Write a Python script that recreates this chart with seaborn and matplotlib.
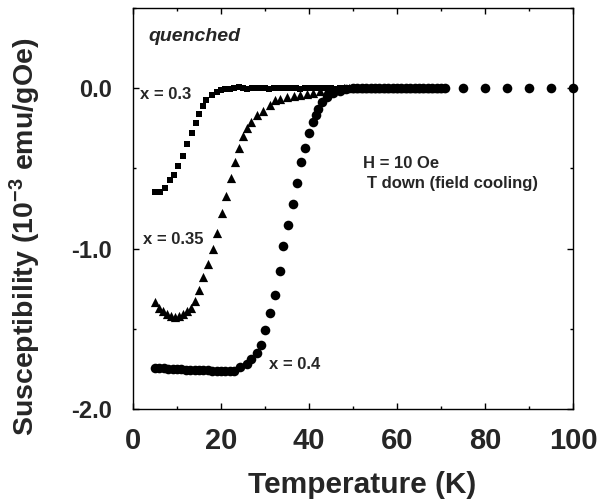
import matplotlib
matplotlib.use("Agg")
import matplotlib.pyplot as plt
import seaborn as sns
import numpy as np
from matplotlib.ticker import AutoMinorLocator, FixedLocator

# ---------------- data ----------------
T_x030 = [5.1, 6.1, 7.3, 8.4, 9.3, 10.3, 11.3, 12.3, 13.3, 14.3, 15.1, 16.0, 16.7,
          17.9, 19.0, 20.0, 21.0, 22.0, 23.0, 24.0, 25.0, 26.0, 27.0, 28.0, 29.0,
          30.0, 31.0, 32.0, 33.0, 34.0, 35.0, 36.0, 37.0, 38.0, 39.0, 40.0, 41.0,
          42.0, 43.0, 44.0, 45.0, 46.0, 47.0, 48.0, 49.0, 50.0, 51.0, 52.0, 53.0,
          54.0, 55.0, 56.0, 57.0, 58.0, 59.0, 60.0, 61.0, 62.0, 63.0, 64.0, 65.0,
          66.0, 67.0, 68.0, 69.0, 70.0]
chi_x030 = [-0.65, -0.65, -0.625, -0.575, -0.54, -0.486, -0.42, -0.35, -0.28, -0.22,
            -0.16, -0.11, -0.075, -0.044, -0.022, -0.012, -0.006, -0.002, 0.0, 0.005,
            0.003, -0.002, 0.0, 0.002, 0.004, 0.0, -0.003, 0.0, 0.002, 0.0,
            0.0, 0.003, 0.0, -0.002, 0.0, 0.002, 0.0, 0.0, 0.003, 0.0,
            0.0, -0.002, 0.0, 0.002, 0.0, 0.0, 0.003, 0.0, 0.0, 0.002,
            0.0, 0.0, 0.0, 0.002, 0.0, 0.0, 0.0, 0.003, 0.0, 0.0,
            0.0, 0.002, 0.0, 0.0, 0.0, 0.0]

T_x035 = [5.0, 5.9, 6.8, 7.7, 8.6, 9.5, 10.4, 11.3, 12.2, 13.1, 14.0, 15.1, 16.0,
          17.0, 18.1, 19.0, 20.2, 21.2, 22.3, 23.2, 24.2, 25.1, 25.8, 26.8, 28.1,
          29.6, 31.1, 32.3, 33.5, 34.9, 36.5, 38.0, 39.5, 41.0, 42.5, 44.0, 45.5,
          47.0, 48.0, 49.0, 50.0, 51.0, 52.0, 53.0, 54.0, 55.0, 56.0, 57.0, 58.0,
          59.0, 60.0, 61.0, 62.0, 63.0, 64.0, 65.0, 66.0, 67.0, 68.0, 69.0, 70.0]
chi_x035 = [-1.336, -1.37, -1.39, -1.41, -1.42, -1.425, -1.42, -1.41, -1.39, -1.37,
            -1.325, -1.26, -1.18, -1.096, -1.0, -0.9, -0.78, -0.675, -0.56, -0.46,
            -0.37, -0.30, -0.25, -0.21, -0.17, -0.14, -0.106, -0.075, -0.065, -0.054,
            -0.048, -0.044, -0.037, -0.03, -0.02, -0.01, -0.005, -0.002, 0.0, 0.0,
            0.0, 0.0, 0.0, 0.0, 0.0, 0.0, 0.0, 0.0, 0.0, 0.0,
            0.0, 0.0, 0.0, 0.0, 0.0, 0.0, 0.0, 0.0, 0.0, 0.0, 0.0]

T_x040 = [5.0, 6.0, 7.0, 8.0, 9.0, 10.0, 11.0, 12.0, 13.0, 14.0, 15.0, 16.0, 17.0,
          18.0, 19.0, 20.0, 21.0, 22.0, 23.0, 24.3, 25.8, 26.9, 28.1, 29.2, 30.0,
          31.1, 32.3, 33.4, 34.2, 35.3, 36.3, 37.2, 38.1, 39.2, 40.1, 41.0, 41.7,
          42.1, 43.0, 44.0, 45.5, 47.0, 48.5, 50.0, 51.0, 52.0, 53.0, 54.0, 55.0,
          56.0, 57.0, 58.0, 59.0, 60.0, 61.0, 62.0, 63.0, 64.0, 65.0, 66.0, 67.0,
          68.0, 69.0, 70.0, 71.0, 75.0, 80.0, 85.0, 90.0, 95.0, 100.0]
chi_x040 = [-1.745, -1.745, -1.745, -1.748, -1.75, -1.75, -1.752, -1.755, -1.755,
            -1.755, -1.757, -1.758, -1.758, -1.76, -1.76, -1.76, -1.762, -1.762,
            -1.76, -1.74, -1.72, -1.69, -1.65, -1.60, -1.51, -1.40, -1.29, -1.14,
            -0.985, -0.85, -0.72, -0.59, -0.46, -0.37, -0.28, -0.21, -0.17, -0.127,
            -0.085, -0.054, -0.03, -0.015, -0.005, 0.0, 0.0, 0.0, 0.0, 0.0, 0.0,
            0.0, 0.0, 0.0, 0.0, 0.0, 0.0, 0.0, 0.0, 0.0, 0.0, 0.0, 0.0,
            0.0, 0.0, 0.0, 0.0, 0.0, 0.0, 0.0, 0.0, 0.0, 0.0]

x_ticks = [0, 20, 40, 60, 80, 100]
x_ticklabels = ["0", "20", "40", "60", "80", "100"]
y_ticks = [-2.0, -1.0, 0.0]
y_ticklabels = ["-2.0", "-1.0", "0.0"]

# ---------------- style ----------------
sns.set_style("ticks")
plt.rcParams["font.family"] = ["Liberation Sans", "DejaVu Sans"]
plt.rcParams["font.weight"] = "bold"
plt.rcParams["mathtext.fontset"] = "custom"
plt.rcParams["mathtext.rm"] = "Liberation Sans:bold"
plt.rcParams["mathtext.default"] = "rm"
plt.rcParams["axes.unicode_minus"] = False

fig = plt.figure(figsize=(6.05, 5.04), dpi=100)
ax = fig.add_axes([133 / 605, 95 / 504, 440 / 605, 401 / 504])

sns.scatterplot(x=T_x030, y=chi_x030, marker="s", s=22, color="black",
                linewidth=0, ax=ax)
sns.scatterplot(x=T_x035, y=chi_x035, marker="^", s=44, color="black",
                linewidth=0, ax=ax)
sns.scatterplot(x=T_x040, y=chi_x040, marker="o", s=48, color="black",
                linewidth=0, ax=ax, clip_on=False)

ax.set_xlim(0, 100)
ax.set_ylim(-2.0, 0.5)
ax.xaxis.set_major_locator(FixedLocator(x_ticks))
ax.set_xticklabels(x_ticklabels)
ax.yaxis.set_major_locator(FixedLocator(y_ticks))
ax.set_yticklabels(y_ticklabels)
ax.xaxis.set_minor_locator(AutoMinorLocator(2))
ax.yaxis.set_minor_locator(AutoMinorLocator(2))

ax.tick_params(which="both", direction="in", top=True, right=True,
               width=1.0, color="black")
ax.tick_params(which="major", length=4.3)
ax.tick_params(which="minor", length=2.4)
ax.tick_params(axis="x", which="major", labelsize=21, pad=13)
ax.tick_params(axis="y", which="major", labelsize=17, pad=15)
for lab in ax.get_xticklabels() + ax.get_yticklabels():
    lab.set_fontweight("bold")

for sp in ax.spines.values():
    sp.set_linewidth(1.0)
    sp.set_color("black")

ax.set_xlabel("Temperature (K)", fontsize=21.5, fontweight="bold")
ax.xaxis.set_label_coords(0.52, -0.155)
ax.set_ylabel("Susceptibility (10$^{-3}$ emu/gOe)", fontsize=20.5,
              fontweight="bold")
ax.yaxis.set_label_coords(-0.205, 0.43)

ax.text(3.6, 0.32, "quenched", fontsize=14, fontweight="bold",
        fontstyle="italic", ha="left", va="center")
ax.text(1.7, -0.04, "x = 0.3", fontsize=12, fontweight="bold",
        ha="left", va="center")
ax.text(2.3, -0.945, "x = 0.35", fontsize=12, fontweight="bold",
        ha="left", va="center")
ax.text(31.0, -1.72, "x = 0.4", fontsize=12, fontweight="bold",
        ha="left", va="center")
ax.text(52.2, -0.47, "H = 10 Oe", fontsize=12, fontweight="bold",
        ha="left", va="center")
ax.text(53.1, -0.595, "T down (field cooling)", fontsize=12, fontweight="bold",
        ha="left", va="center")

fig.savefig("out.png", dpi=100)
